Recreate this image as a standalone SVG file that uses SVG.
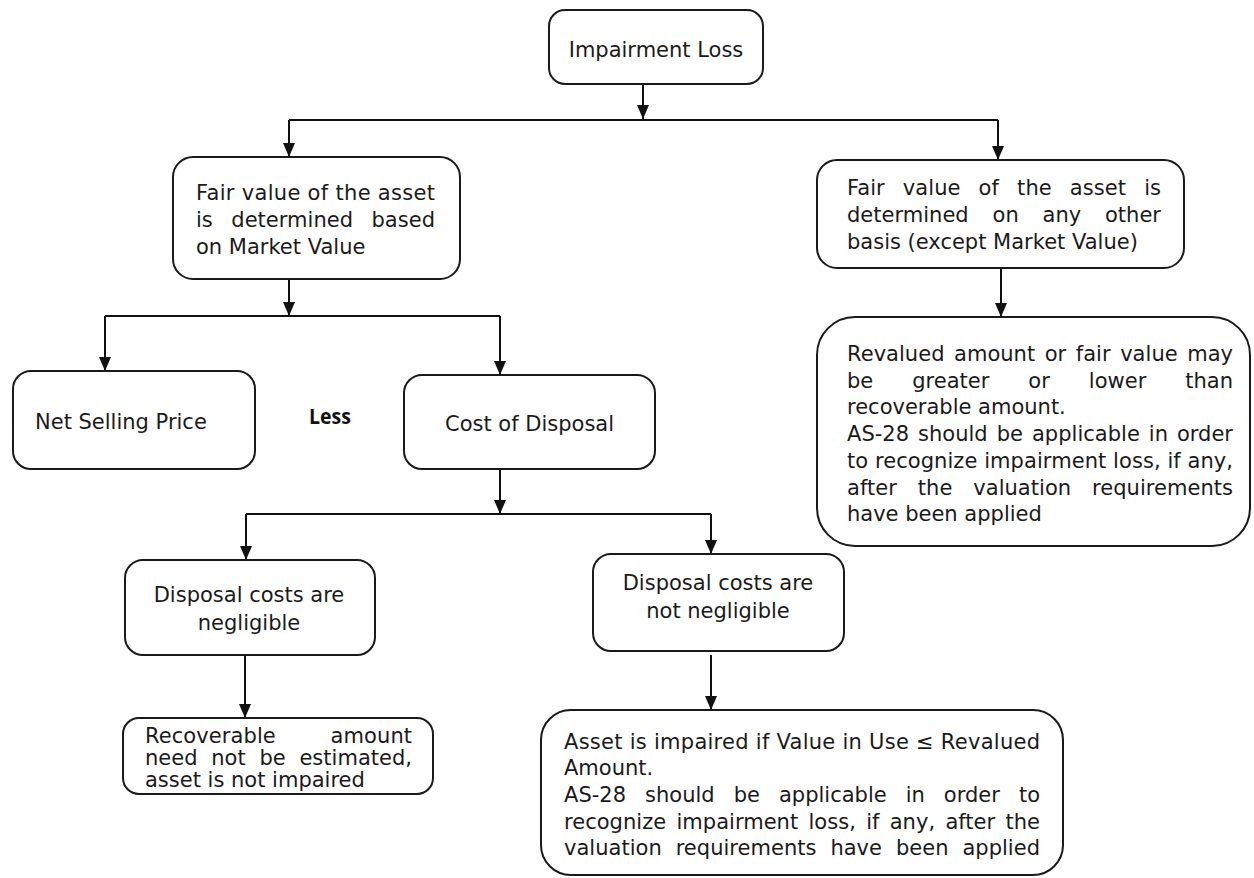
<svg xmlns="http://www.w3.org/2000/svg" width="1254" height="878" viewBox="0 0 1254 878">
<defs>
<marker id="arr" viewBox="0 0 14 12" refX="14" refY="6" markerWidth="14" markerHeight="12" markerUnits="userSpaceOnUse" orient="auto">
<path d="M0,0 L14,6 L0,12 z" fill="#111"/>
</marker>
<style>
.box{fill:#fff;stroke:#1a1a1a;stroke-width:2}
.t{font-family:"DejaVu Sans","Liberation Sans",sans-serif;font-size:21px;fill:#1a1a1a}
.c{text-anchor:middle}
.b{font-family:"Open Sans","Liberation Sans",Arial,sans-serif;font-size:21px;font-weight:bold;fill:#111}
.ln{fill:none;stroke:#111;stroke-width:2}
.ar{fill:none;stroke:#111;stroke-width:2;marker-end:url(#arr)}
</style>
</defs>
<rect width="1254" height="878" fill="#fff"/>

<g id="connectors">
<path class="ar" d="M643,84 V119"/>
<path class="ln" d="M289,120 H998"/>
<path class="ar" d="M289,120 V157"/>
<path class="ar" d="M998,120 V160"/>
<path class="ar" d="M289,279 V316"/>
<path class="ln" d="M105,316 H500"/>
<path class="ar" d="M105,316 V371"/>
<path class="ar" d="M500,316 V375"/>
<path class="ar" d="M1001,268 V317"/>
<path class="ar" d="M500,469 V514"/>
<path class="ln" d="M246,514 H711"/>
<path class="ar" d="M246,514 V560"/>
<path class="ar" d="M711,514 V554"/>
<path class="ar" d="M245,655 V718"/>
<path class="ar" d="M711,655 V710"/>
</g>

<g id="impairment-loss">
<rect class="box" x="549" y="10" width="214" height="74" rx="16"/>
<text class="t c" x="656" y="57">Impairment Loss</text>
</g>

<g id="fv-market">
<rect class="box" x="173" y="157" width="287" height="122" rx="20"/>
<text class="t" x="196" y="200" textLength="239" lengthAdjust="spacing">Fair value of the asset</text>
<text class="t" x="196" y="227" textLength="239" lengthAdjust="spacing" style="word-spacing:11.8px">is determined based</text>
<text class="t" x="196" y="254">on Market Value</text>
</g>

<g id="fv-other">
<rect class="box" x="817" y="160" width="367" height="108" rx="20"/>
<text class="t" x="847" y="195" textLength="314" lengthAdjust="spacing" style="word-spacing:11.3px">Fair value of the asset is</text>
<text class="t" x="847" y="222" textLength="314" lengthAdjust="spacing" style="word-spacing:17.1px">determined on any other</text>
<text class="t" x="847" y="249">basis (except Market Value)</text>
</g>

<g id="net-selling-price">
<rect class="box" x="13" y="371" width="242" height="98" rx="18"/>
<text class="t" x="35" y="429">Net Selling Price</text>
</g>

<g id="less">
<text class="b" x="309" y="424" textLength="42" lengthAdjust="spacingAndGlyphs">Less</text>
</g>

<g id="cost-of-disposal">
<rect class="box" x="404" y="375" width="251" height="94" rx="18"/>
<text class="t" x="445" y="431">Cost of Disposal</text>
</g>

<g id="revalued">
<rect class="box" x="817" y="317" width="433" height="229" rx="38"/>
<text class="t" x="847" y="361" textLength="386" lengthAdjust="spacing" style="word-spacing:2.8px">Revalued amount or fair value may</text>
<text class="t" x="847" y="388" textLength="386" lengthAdjust="spacing" style="word-spacing:32.2px">be greater or lower than</text>
<text class="t" x="847" y="414">recoverable amount.</text>
<text class="t" x="847" y="441" textLength="386" lengthAdjust="spacing" style="word-spacing:2.3px">AS-28 should be applicable in order</text>
<text class="t" x="847" y="468" textLength="386" lengthAdjust="spacing">to recognize impairment loss, if any,</text>
<text class="t" x="847" y="495" textLength="386" lengthAdjust="spacing" style="word-spacing:14.2px">after the valuation requirements</text>
<text class="t" x="847" y="521">have been applied</text>
</g>

<g id="negligible">
<rect class="box" x="125" y="560" width="250" height="95" rx="18"/>
<text class="t c" x="249" y="602">Disposal costs are</text>
<text class="t c" x="249" y="630">negligible</text>
</g>

<g id="not-negligible">
<rect class="box" x="593" y="554" width="251" height="97" rx="18"/>
<text class="t c" x="718" y="590">Disposal costs are</text>
<text class="t c" x="718" y="618">not negligible</text>
</g>

<g id="recoverable">
<rect class="box" x="123" y="718" width="310" height="76" rx="16"/>
<text class="t" x="145" y="743" textLength="267" lengthAdjust="spacing" style="word-spacing:48px">Recoverable amount</text>
<text class="t" x="145" y="765" textLength="267" lengthAdjust="spacing" style="word-spacing:7px">need not be estimated,</text>
<text class="t" x="145" y="787">asset is not impaired</text>
</g>

<g id="asset-impaired">
<rect class="box" x="541" y="710" width="522" height="165" rx="30"/>
<text class="t" x="564" y="749" textLength="476" lengthAdjust="spacing">Asset is impaired if Value in Use ≤ Revalued</text>
<text class="t" x="564" y="775">Amount.</text>
<text class="t" x="564" y="802" textLength="476" lengthAdjust="spacing" style="word-spacing:12.3px">AS-28 should be applicable in order to</text>
<text class="t" x="564" y="829" textLength="476" lengthAdjust="spacing" style="word-spacing:3.6px">recognize impairment loss, if any, after the</text>
<text class="t" x="564" y="855" textLength="476" lengthAdjust="spacing" style="word-spacing:7.2px">valuation requirements have been applied</text>
</g>
</svg>
